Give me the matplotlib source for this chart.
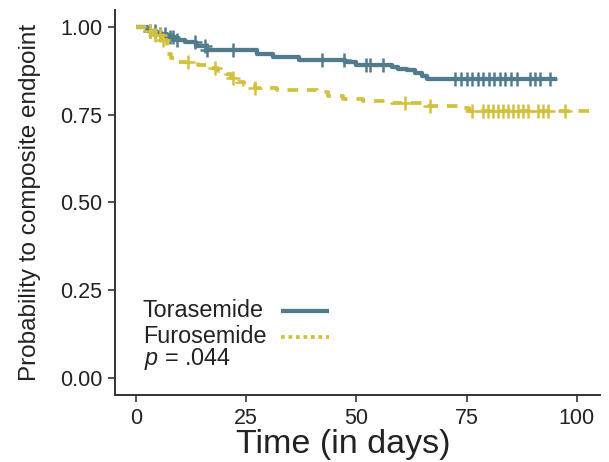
import numpy as np
import matplotlib
matplotlib.use("Agg")
import matplotlib.pyplot as plt

plt.rcParams["font.family"] = ["Liberation Sans", "DejaVu Sans"]
plt.rcParams["mathtext.fontset"] = "custom"
plt.rcParams["mathtext.it"] = "Liberation Sans:italic"
plt.rcParams["mathtext.rm"] = "Liberation Sans"

# Kaplan-Meier steps (time in days, survival after the step)
tor_time = [0, 2.5, 4.5, 7, 9, 11, 13.5, 16, 27.5, 31, 37, 47.5, 50, 58, 59.5, 61.5, 63.3, 65, 66, 95.5]
tor_surv = [1.0, 0.99, 0.98, 0.972, 0.965, 0.958, 0.948, 0.937, 0.924, 0.917, 0.907, 0.902, 0.894,
            0.888, 0.882, 0.878, 0.871, 0.862, 0.852, 0.852]
tor_cens = [3.2, 4.3, 5.4, 6.5, 7.7, 8.4, 9.3, 13.4, 15.7, 16.1, 22, 42.2, 47.2, 52.2, 53.1, 56,
            72.4, 73.8, 75.1, 76.3, 77.6, 78.7, 80.1, 81.2, 82.6, 83.7, 85.1, 86.4, 89.4, 90.6, 91.7, 94.0]

fur_time = [0, 2.5, 4, 5.5, 7, 8, 9.5, 14, 16.5, 18.5, 20.5, 21.5, 23, 24.5, 27, 32, 41, 43.5, 47,
            51.5, 58, 66, 74, 75.5, 104]
fur_surv = [1.0, 0.99, 0.978, 0.965, 0.925, 0.912, 0.9, 0.892, 0.885, 0.876, 0.866, 0.856, 0.845,
            0.835, 0.826, 0.822, 0.815, 0.805, 0.797, 0.79, 0.785, 0.777, 0.77, 0.761, 0.761]
fur_cens = [3.2, 4.3, 5.4, 6.1, 11.8, 17.9, 22, 27, 61, 66.7, 76.3, 78.8, 79.9, 81.0, 82.2, 83.3,
            84.4, 85.5, 86.7, 87.8, 89.0, 91.3, 92.4, 93.5, 97.4]

groups = ["Torasemide", "Furosemide"]
p_text = "$p$ = .044"

blue = "#527C8E"
yellow = "#D3C13E"
dark = "#222222"


def surv_at(times, surv, t):
    idx = np.searchsorted(times, t, side="right") - 1
    return np.array(surv)[idx]


fig = plt.figure(figsize=(6.09, 4.62), dpi=100)
ax = fig.add_axes([115 / 609, 1 - 395 / 462, 485 / 609, 385 / 462])

# Torasemide
ax.step(tor_time, tor_surv, where="post", color=blue, lw=3.1, solid_capstyle="butt")
ax.plot(tor_cens, surv_at(tor_time, tor_surv, tor_cens), ls="none", marker="+",
        ms=9.5, mew=1.8, color=blue)

# Furosemide
ax.step(fur_time, fur_surv, where="post", color=yellow, lw=2.7, dashes=(2.8, 2.4),
        dash_capstyle="butt")
ax.plot(fur_cens, surv_at(fur_time, fur_surv, fur_cens), ls="none", marker="+",
        ms=9.5, mew=1.8, color=yellow)

ax.set_xlim(-4.8, 105.3)
ax.set_ylim(-0.05, 1.05)
ax.set_xticks([0, 25, 50, 75, 100])
ax.set_yticks([0, 0.25, 0.5, 0.75, 1.0])
ax.set_yticklabels(["0.00", "0.25", "0.50", "0.75", "1.00"])

for side in ["top", "right"]:
    ax.spines[side].set_visible(False)
for side in ["left", "bottom"]:
    ax.spines[side].set_linewidth(1.4)
    ax.spines[side].set_color("#333333")
ax.tick_params(length=5, width=1.2, color="#333333", labelsize=15.5, labelcolor=dark, pad=4)

ax.set_xlabel("Time (in days)", fontsize=24.5, color=dark)
ax.xaxis.set_label_coords(0.47, -0.088)
ax.set_ylabel("Probability to composite endpoint", fontsize=17.5, color=dark, labelpad=14)

# legend (text on the left, keys on the right)
ax.text(0.0577, 0.2026, groups[0], transform=ax.transAxes, fontsize=16.8, color=dark, va="baseline")
ax.text(0.0577, 0.135, groups[1], transform=ax.transAxes, fontsize=16.8, color=dark, va="baseline")
ax.text(0.060, 0.078, p_text, transform=ax.transAxes, fontsize=16.8, color=dark, va="baseline")
ax.plot([0.342, 0.441], [0.218, 0.218], transform=ax.transAxes, color=blue, lw=3.1,
        solid_capstyle="butt", clip_on=False)
ax.plot([0.342, 0.441], [0.150, 0.150], transform=ax.transAxes, color=yellow, lw=2.7,
        dashes=(1.0, 1.0), dash_capstyle="butt", clip_on=False)

fig.savefig("out.png", dpi=100)
